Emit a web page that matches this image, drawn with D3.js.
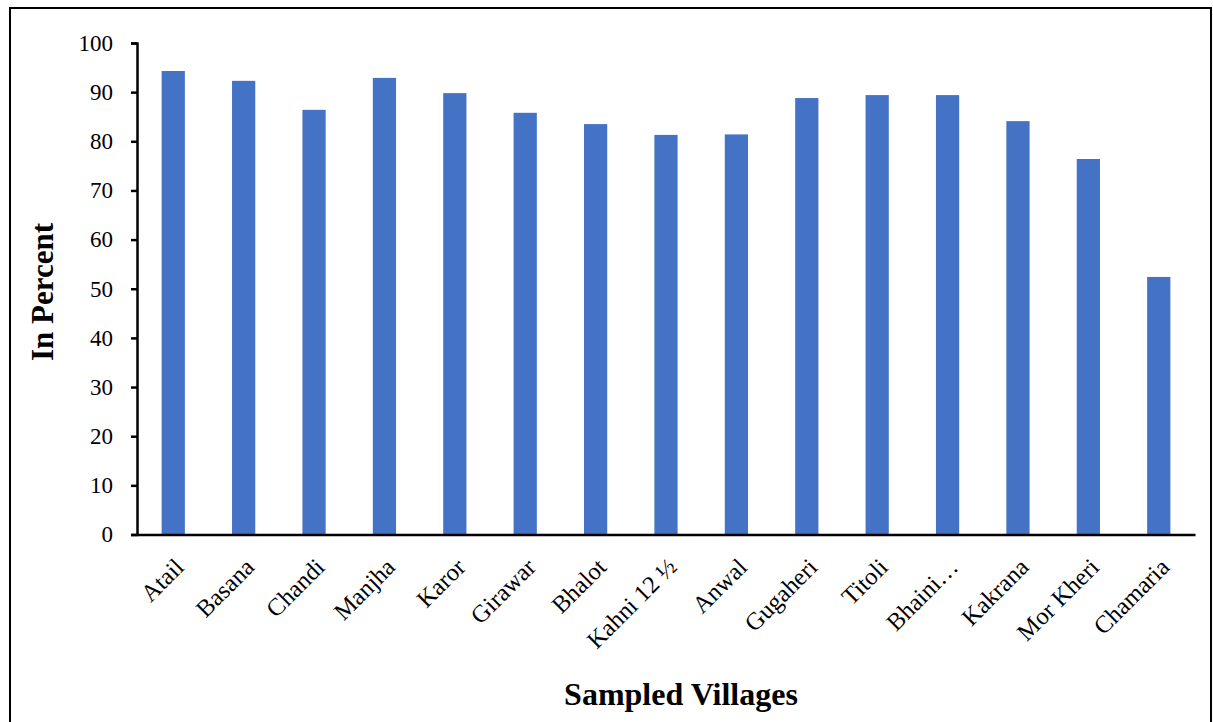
<!DOCTYPE html>
<html>
<head>
<meta charset="utf-8">
<script src="https://cdn.jsdelivr.net/npm/d3@7"></script>
<style>
  body { margin: 0; background: #fff; }
  text { font-family: "Liberation Serif", "Times New Roman", serif; fill: #000; }
</style>
</head>
<body>
<div id="vis"></div>
<script>
// chart data
const VILLAGES = ["Atail", "Basana", "Chandi", "Manjha", "Karor", "Girawar", "Bhalot",
                  "Kahni 12 \u00BD", "Anwal", "Gugaheri", "Titoli", "Bhaini\u2026",
                  "Kakrana", "Mor Kheri", "Chamaria"];
const PERCENT = [94.3, 92.3, 86.4, 92.9, 89.8, 85.8, 83.5, 81.3, 81.4, 88.8, 89.4, 89.4, 84.1, 76.4, 52.4];
const Y_TICKS = [0, 10, 20, 30, 40, 50, 60, 70, 80, 90, 100];

// frame
const FRAME_WIDTH = 1213;
const FRAME_HEIGHT = 722;
const MARGINS = {left: 137, right: 18, top: 43, bottom: 187};

const FRAME = d3.select("#vis")
                .append("svg")
                  .attr("width", FRAME_WIDTH)
                  .attr("height", FRAME_HEIGHT);

// outer border
FRAME.append("rect")
     .attr("x", 10)
     .attr("y", 8)
     .attr("width", 1201)
     .attr("height", 730)
     .attr("fill", "none")
     .attr("stroke", "#000")
     .attr("stroke-width", 2);

const X_SCALE = d3.scaleBand()
                  .domain(VILLAGES)
                  .range([MARGINS.left, FRAME_WIDTH - MARGINS.right])
                  .paddingInner(0.67)
                  .paddingOuter(0.35);

const Y_SCALE = d3.scaleLinear()
                  .domain([0, 100])
                  .range([FRAME_HEIGHT - MARGINS.bottom - 0.5, MARGINS.top]);

// bars
FRAME.selectAll(".bar")
     .data(PERCENT)
     .enter()
     .append("rect")
       .attr("class", "bar")
       .attr("x", (d, i) => X_SCALE(VILLAGES[i]))
       .attr("y", (d) => Y_SCALE(d))
       .attr("width", X_SCALE.bandwidth())
       .attr("height", (d) => Y_SCALE(0) - Y_SCALE(d))
       .attr("fill", "#4472C4");

// y axis
const yAxis = FRAME.append("g")
     .attr("transform", "translate(" + MARGINS.left + ",0)")
     .call(d3.axisLeft(Y_SCALE).tickValues(Y_TICKS).tickSizeOuter(0).tickSize(6).tickPadding(18));
yAxis.select(".domain").attr("stroke-width", 2.5);
yAxis.selectAll(".tick line").attr("stroke-width", 2.5);
yAxis.selectAll("text").attr("font-size", "23px").attr("font-family", "Liberation Serif");

// x axis
const xAxis = FRAME.append("g")
     .attr("transform", "translate(0," + Y_SCALE(0) + ")")
     .call(d3.axisBottom(X_SCALE).tickSize(0).tickSizeOuter(0));
xAxis.select(".domain").attr("stroke-width", 2.5);
xAxis.selectAll("text")
     .attr("font-size", "24.5px")
     .attr("font-family", "Liberation Serif")
     .attr("text-anchor", "end")
     .attr("dy", "0")
     .attr("transform", "translate(10,32) rotate(-45)");

// axis titles
FRAME.append("text")
     .attr("transform", "translate(53,292) rotate(-90)")
     .attr("text-anchor", "middle")
     .attr("font-size", "31px")
     .attr("font-weight", "bold")
     .text("In Percent");

FRAME.append("text")
     .attr("x", 681)
     .attr("y", 705)
     .attr("text-anchor", "middle")
     .attr("font-size", "32px")
     .attr("font-weight", "bold")
     .text("Sampled Villages");
</script>
</body>
</html>
